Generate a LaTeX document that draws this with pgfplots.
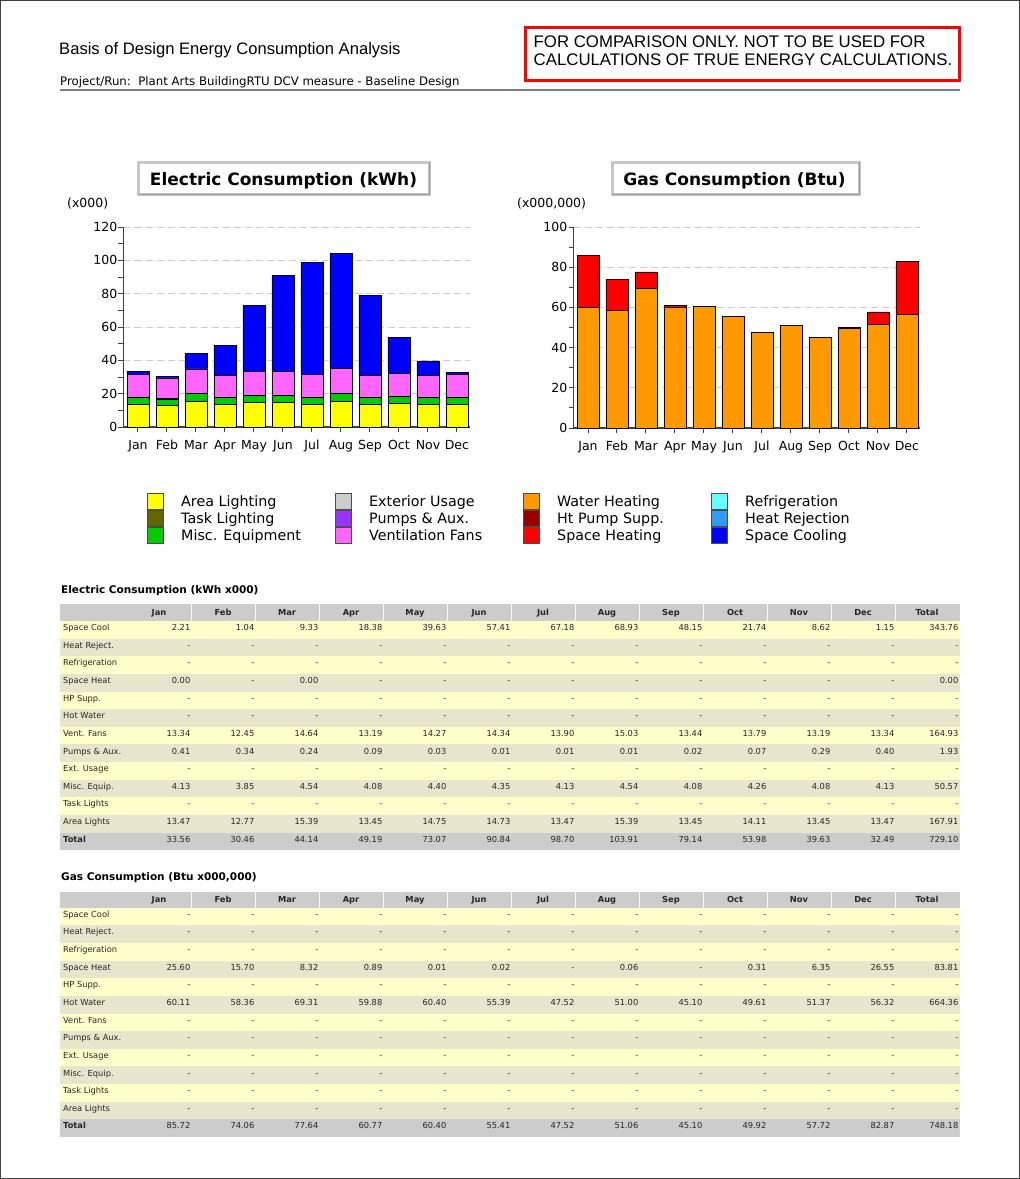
\documentclass[border=0pt]{standalone}
\usepackage{fontspec}
\setmainfont{DejaVu Sans}
\newfontfamily\arial{Liberation Sans}
\usepackage{pgfplots}
\usepackage{pgfplotstable}
\pgfplotsset{compat=1.18}

\newcommand\fs[1]{\fontsize{#1}{#1}\selectfont}

\definecolor{cArea}{HTML}{FFFF00}
\definecolor{cTask}{HTML}{666600}
\definecolor{cMisc}{HTML}{00CC00}
\definecolor{cExt}{HTML}{CCCCCC}
\definecolor{cPump}{HTML}{9933FF}
\definecolor{cVent}{HTML}{FF66FF}
\definecolor{cWater}{HTML}{FF9900}
\definecolor{cHP}{HTML}{990000}
\definecolor{cSpHeat}{HTML}{FF0000}
\definecolor{cRefr}{HTML}{66FFFF}
\definecolor{cRej}{HTML}{3399FF}
\definecolor{cCool}{HTML}{0000FF}
\definecolor{rowA}{HTML}{FFFFCC}
\definecolor{rowB}{HTML}{E6E6CC}
\definecolor{rowH}{HTML}{CCCCCC}

% electric, kWh x000, stacked bottom to top
\pgfplotstableread{
m area misc pump vent cool
0  13.47 4.13 0.41 13.34 2.21
1  12.77 3.85 0.34 12.45 1.04
2  15.39 4.54 0.24 14.64 9.33
3  13.45 4.08 0.09 13.19 18.38
4  14.75 4.40 0.03 14.27 39.63
5  14.73 4.35 0.01 14.34 57.41
6  13.47 4.13 0.01 13.90 67.18
7  15.39 4.54 0.01 15.03 68.93
8  13.45 4.08 0.02 13.44 48.15
9  14.11 4.26 0.07 13.79 21.74
10 13.45 4.08 0.29 13.19 8.62
11 13.47 4.13 0.40 13.34 1.15
}\elec

% gas, Btu x000,000
\pgfplotstableread{
m water heat
0  60.11 25.60
1  58.36 15.70
2  69.31 8.32
3  59.88 0.89
4  60.40 0.01
5  55.39 0.02
6  47.52 0
7  51.00 0.06
8  45.10 0
9  49.61 0.31
10 51.37 6.35
11 56.32 26.55
}\gas

\pgfplotsset{
  chart/.style={
    scale only axis, width=346.5pt,
    xmin=-0.5, xmax=11.45, ymin=0,
    ybar stacked, bar width=22pt,
    axis x line*=bottom, axis y line*=left,
    axis line style={line width=1.2pt, black!75},
    xtick={0,...,11},
    xticklabels={Jan,Feb,Mar,Apr,May,Jun,Jul,Aug,Sep,Oct,Nov,Dec},
    minor y tick num=1,
    tick align=outside, major tick length=5pt, minor tick length=5pt,
    tick style={line width=1pt, black!75},
    ymajorgrids,
    major grid style={dash pattern=on 7pt off 4pt, line width=1pt, black!20},
    /pgf/number format/assume math mode=true,
    ticklabel style={font=\fs{12.5}, inner sep=0pt, text=black},
    xticklabel style={anchor=north, yshift=-8pt, text height=9pt, text depth=2.5pt},
    yticklabel style={anchor=east, xshift=-1pt},
    every axis plot/.append style={draw=black, line width=0.8pt},
  }
}

\tikzset{tc/.style={font=\fs{8.3}, inner sep=0pt, text height=6pt, text depth=0pt, text=black!85}}

% table row: #1 band top, #2 label, #3 values, #4 fill
\newcommand\trow[4]{%
  \fill[#4] (60,-#1) rectangle (960,-#1-17.63);
  \node[tc, anchor=west] at (63,-#1-6.6) {#2};
  \foreach \v [count=\ci] in #3 {\node[tc, anchor=east] at ({127+64*\ci-0.5},-#1-6.6) {\v};}
}
\newcommand\thead[2]{% #1 top, #2 bottom
  \fill[rowH] (60,-#1) rectangle (960,-#2);
  \foreach \h [count=\ci] in {Jan,Feb,Mar,Apr,May,Jun,Jul,Aug,Sep,Oct,Nov,Dec,Total}
    {\node[tc, font=\fs{8.3}\bfseries, anchor=center, text depth=0pt] at ({127+64*\ci-32},{-(#1+#2)/2}) {\h};}
  \foreach \ci in {1,...,12} {\draw[white!90!rowH, line width=1pt] ({127+64*\ci},-#1) -- ({127+64*\ci},-#2);}
}
\newcommand\lgd[4]{% x, y center, colour, label
  \draw[black!70, line width=0.8pt, fill=#3] (#1,-#2+8) rectangle (#1+16,-#2-8);
  \node[anchor=west, inner sep=0pt, font=\fs{14.3}, text height=10.2pt, text depth=0pt] at (#1+34,-#2) {#4};
}
\def\dd{-,-,-,-,-,-,-,-,-,-,-,-,-}

\begin{document}
\begin{tikzpicture}
\begin{scope}[x=1pt,y=1pt]
\useasboundingbox (0,0) rectangle (1020,-1179);
\draw[line width=1pt, black!75] (0.5,-0.5) rectangle (1019.5,-1178.5);

% page header
\node[anchor=base west, inner sep=0pt, font=\arial\fs{16.6}] at (59,-54.3) {Basis of Design Energy Consumption Analysis};
\node[anchor=base west, inner sep=0pt, font=\fs{11.75}] at (60,-85.7) {Project/Run:\ \ Plant Arts BuildingRTU DCV measure - Baseline Design};
\draw[line width=2pt, black!50] (60,-90) -- (960,-90);
\draw[line width=3pt, red] (525.5,-27.5) rectangle (959.5,-80);
\node[anchor=base west, inner sep=0pt, font=\arial\fs{16.8}] at (533.5,-47.7) {FOR COMPARISON ONLY. NOT TO BE USED FOR};
\node[anchor=base west, inner sep=0pt, font=\arial\fs{16.8}] at (533.5,-65.7) {CALCULATIONS OF TRUE ENERGY CALCULATIONS.};

% chart titles
\draw[line width=3pt, black!22, fill=white] (138,-162.5) rectangle (429,-194);
\draw[line width=1pt, black!40] (429.5,-162) -- (429.5,-194.5) -- (138,-194.5);
\node[anchor=base, inner sep=0pt, font=\fs{17}\bfseries] at (283.5,-185) {Electric Consumption (kWh)};
\draw[line width=3pt, black!22, fill=white] (612,-162.5) rectangle (859,-194);
\draw[line width=1pt, black!40] (859.5,-162) -- (859.5,-194.5) -- (612,-194.5);
\node[anchor=base, inner sep=0pt, font=\fs{17}\bfseries] at (734.5,-185) {Gas Consumption (Btu)};
\node[anchor=base west, inner sep=0pt, font=\fs{12.5}] at (67,-207) {(x000)};
\node[anchor=base west, inner sep=0pt, font=\fs{12.5}] at (517,-207) {(x000,000)};

% legend
\lgd{147}{501.5}{cArea}{Area Lighting}
\lgd{147}{518.5}{cTask}{Task Lighting}
\lgd{147}{535.5}{cMisc}{Misc. Equipment}
\lgd{335}{501.5}{cExt}{Exterior Usage}
\lgd{335}{518.5}{cPump}{Pumps \& Aux.}
\lgd{335}{535.5}{cVent}{Ventilation Fans}
\lgd{523}{501.5}{cWater}{Water Heating}
\lgd{523}{518.5}{cHP}{Ht Pump Supp.}
\lgd{523}{535.5}{cSpHeat}{Space Heating}
\lgd{711}{501.5}{cRefr}{Refrigeration}
\lgd{711}{518.5}{cRej}{Heat Rejection}
\lgd{711}{535.5}{cCool}{Space Cooling}

% electric table
\node[anchor=base west, inner sep=0pt, font=\fs{10.5}\bfseries] at (61,-593) {Electric Consumption (kWh x000)};
\thead{604}{621}
\trow{621}{Space Cool}{{2.21,1.04,9.33,18.38,39.63,57.41,67.18,68.93,48.15,21.74,8.62,1.15,343.76}}{rowA}
\trow{638.63}{Heat Reject.}{\dd}{rowB}
\trow{656.26}{Refrigeration}{\dd}{rowA}
\trow{673.89}{Space Heat}{{0.00,-,0.00,-,-,-,-,-,-,-,-,-,0.00}}{rowB}
\trow{691.52}{HP Supp.}{\dd}{rowA}
\trow{709.15}{Hot Water}{\dd}{rowB}
\trow{726.78}{Vent. Fans}{{13.34,12.45,14.64,13.19,14.27,14.34,13.90,15.03,13.44,13.79,13.19,13.34,164.93}}{rowA}
\trow{744.41}{Pumps \& Aux.}{{0.41,0.34,0.24,0.09,0.03,0.01,0.01,0.01,0.02,0.07,0.29,0.40,1.93}}{rowB}
\trow{762.04}{Ext. Usage}{\dd}{rowA}
\trow{779.67}{Misc. Equip.}{{4.13,3.85,4.54,4.08,4.40,4.35,4.13,4.54,4.08,4.26,4.08,4.13,50.57}}{rowB}
\trow{797.3}{Task Lights}{\dd}{rowA}
\trow{814.93}{Area Lights}{{13.47,12.77,15.39,13.45,14.75,14.73,13.47,15.39,13.45,14.11,13.45,13.47,167.91}}{rowB}
\trow{832.56}{\bfseries Total}{{33.56,30.46,44.14,49.19,73.07,90.84,98.70,103.91,79.14,53.98,39.63,32.49,729.10}}{rowH}

% gas table
\node[anchor=base west, inner sep=0pt, font=\fs{10.5}\bfseries] at (61,-880) {Gas Consumption (Btu x000,000)};
\thead{891.7}{907.7}
\trow{907.7}{Space Cool}{\dd}{rowA}
\trow{925.34}{Heat Reject.}{\dd}{rowB}
\trow{942.98}{Refrigeration}{\dd}{rowA}
\trow{960.62}{Space Heat}{{25.60,15.70,8.32,0.89,0.01,0.02,-,0.06,-,0.31,6.35,26.55,83.81}}{rowB}
\trow{978.26}{HP Supp.}{\dd}{rowA}
\trow{995.9}{Hot Water}{{60.11,58.36,69.31,59.88,60.40,55.39,47.52,51.00,45.10,49.61,51.37,56.32,664.36}}{rowB}
\trow{1013.54}{Vent. Fans}{\dd}{rowA}
\trow{1031.18}{Pumps \& Aux.}{\dd}{rowB}
\trow{1048.82}{Ext. Usage}{\dd}{rowA}
\trow{1066.46}{Misc. Equip.}{\dd}{rowB}
\trow{1084.1}{Task Lights}{\dd}{rowA}
\trow{1101.74}{Area Lights}{\dd}{rowB}
\trow{1119.38}{\bfseries Total}{{85.72,74.06,77.64,60.77,60.40,55.41,47.52,51.06,45.10,49.92,57.72,82.87,748.18}}{rowH}
\end{scope}

\begin{axis}[chart, at={(123.5pt,-427pt)}, anchor=south west,
  height=200pt, ymax=120, ytick={0,20,...,120}]
\addplot[fill=cArea] table[x=m,y=area] {\elec};
\addplot[fill=cMisc] table[x=m,y=misc] {\elec};
\addplot[fill=cPump] table[x=m,y=pump] {\elec};
\addplot[fill=cVent] table[x=m,y=vent] {\elec};
\addplot[fill=cCool] table[x=m,y=cool] {\elec};
\end{axis}

\begin{axis}[chart, at={(573.5pt,-428pt)}, anchor=south west,
  height=201pt, ymax=100, ytick={0,20,...,100}]
\addplot[fill=cWater] table[x=m,y=water] {\gas};
\addplot[fill=cSpHeat] table[x=m,y=heat] {\gas};
\end{axis}
\end{tikzpicture}
\end{document}
